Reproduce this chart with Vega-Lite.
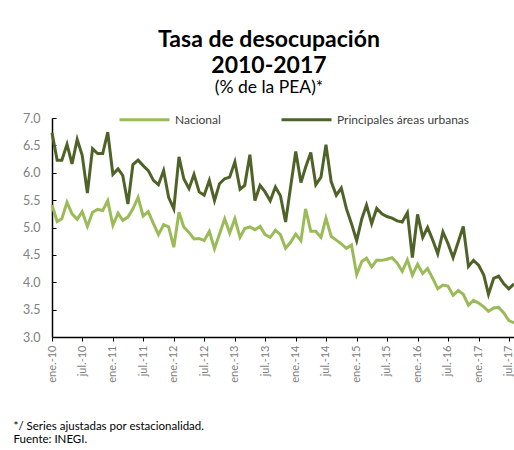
{
  "$schema": "https://vega.github.io/schema/vega-lite/v6.json",
  "width": 462,
  "height": 219,
  "autosize": {"type": "none"},
  "padding": {"left": 52, "top": 118, "right": 0, "bottom": 113},
  "background": "white",
  "config": {"view": {"stroke": null}, "font": "Lato"},
  "title": {
    "text": ["Tasa de desocupación", "2010-2017"],
    "subtitle": "(% de la PEA)*",
    "anchor": "middle",
    "frame": "group",
    "dx": -14,
    "offset": -3,
    "font": "Lato",
    "fontSize": 23,
    "fontWeight": "bold",
    "color": "#000000",
    "lineHeight": 26,
    "subtitleFont": "Lato",
    "subtitleFontSize": 17.5,
    "subtitleColor": "#000000",
    "subtitlePadding": 1
  },
  "data": {
    "values": [
      {"fecha": "2010-01-01", "Nacional": 5.41, "Principales áreas urbanas": 6.73},
      {"fecha": "2010-02-01", "Nacional": 5.11, "Principales áreas urbanas": 6.23},
      {"fecha": "2010-03-01", "Nacional": 5.16, "Principales áreas urbanas": 6.23},
      {"fecha": "2010-04-01", "Nacional": 5.46, "Principales áreas urbanas": 6.52},
      {"fecha": "2010-05-01", "Nacional": 5.25, "Principales áreas urbanas": 6.16},
      {"fecha": "2010-06-01", "Nacional": 5.15, "Principales áreas urbanas": 6.61},
      {"fecha": "2010-07-01", "Nacional": 5.29, "Principales áreas urbanas": 6.32},
      {"fecha": "2010-08-01", "Nacional": 5.02, "Principales áreas urbanas": 5.63},
      {"fecha": "2010-09-01", "Nacional": 5.28, "Principales áreas urbanas": 6.44},
      {"fecha": "2010-10-01", "Nacional": 5.33, "Principales áreas urbanas": 6.35},
      {"fecha": "2010-11-01", "Nacional": 5.31, "Principales áreas urbanas": 6.35},
      {"fecha": "2010-12-01", "Nacional": 5.49, "Principales áreas urbanas": 6.74},
      {"fecha": "2011-01-01", "Nacional": 5.04, "Principales áreas urbanas": 5.97},
      {"fecha": "2011-02-01", "Nacional": 5.26, "Principales áreas urbanas": 6.07},
      {"fecha": "2011-03-01", "Nacional": 5.13, "Principales áreas urbanas": 5.95},
      {"fecha": "2011-04-01", "Nacional": 5.19, "Principales áreas urbanas": 5.43},
      {"fecha": "2011-05-01", "Nacional": 5.34, "Principales áreas urbanas": 6.15},
      {"fecha": "2011-06-01", "Nacional": 5.55, "Principales áreas urbanas": 6.23},
      {"fecha": "2011-07-01", "Nacional": 5.21, "Principales áreas urbanas": 6.13},
      {"fecha": "2011-08-01", "Nacional": 5.29, "Principales áreas urbanas": 6.04},
      {"fecha": "2011-09-01", "Nacional": 5.07, "Principales áreas urbanas": 5.86},
      {"fecha": "2011-10-01", "Nacional": 4.87, "Principales áreas urbanas": 5.78},
      {"fecha": "2011-11-01", "Nacional": 5.05, "Principales áreas urbanas": 6.04},
      {"fecha": "2011-12-01", "Nacional": 5.01, "Principales áreas urbanas": 5.55},
      {"fecha": "2012-01-01", "Nacional": 4.64, "Principales áreas urbanas": 5.34},
      {"fecha": "2012-02-01", "Nacional": 5.28, "Principales áreas urbanas": 6.29},
      {"fecha": "2012-03-01", "Nacional": 5.01, "Principales áreas urbanas": 5.89},
      {"fecha": "2012-04-01", "Nacional": 4.91, "Principales áreas urbanas": 5.71},
      {"fecha": "2012-05-01", "Nacional": 4.79, "Principales áreas urbanas": 5.97},
      {"fecha": "2012-06-01", "Nacional": 4.80, "Principales áreas urbanas": 5.65},
      {"fecha": "2012-07-01", "Nacional": 4.76, "Principales áreas urbanas": 5.59},
      {"fecha": "2012-08-01", "Nacional": 4.93, "Principales áreas urbanas": 5.86},
      {"fecha": "2012-09-01", "Nacional": 4.61, "Principales áreas urbanas": 5.49},
      {"fecha": "2012-10-01", "Nacional": 4.88, "Principales áreas urbanas": 5.80},
      {"fecha": "2012-11-01", "Nacional": 5.16, "Principales áreas urbanas": 5.89},
      {"fecha": "2012-12-01", "Nacional": 4.90, "Principales áreas urbanas": 5.92},
      {"fecha": "2013-01-01", "Nacional": 5.16, "Principales áreas urbanas": 6.20},
      {"fecha": "2013-02-01", "Nacional": 4.82, "Principales áreas urbanas": 5.70},
      {"fecha": "2013-03-01", "Nacional": 4.98, "Principales áreas urbanas": 5.77},
      {"fecha": "2013-04-01", "Nacional": 5.01, "Principales áreas urbanas": 6.33},
      {"fecha": "2013-05-01", "Nacional": 4.96, "Principales áreas urbanas": 5.49},
      {"fecha": "2013-06-01", "Nacional": 5.02, "Principales áreas urbanas": 5.77},
      {"fecha": "2013-07-01", "Nacional": 4.87, "Principales áreas urbanas": 5.65},
      {"fecha": "2013-08-01", "Nacional": 4.82, "Principales áreas urbanas": 5.49},
      {"fecha": "2013-09-01", "Nacional": 4.95, "Principales áreas urbanas": 5.74},
      {"fecha": "2013-10-01", "Nacional": 4.87, "Principales áreas urbanas": 5.58},
      {"fecha": "2013-11-01", "Nacional": 4.62, "Principales áreas urbanas": 5.10},
      {"fecha": "2013-12-01", "Nacional": 4.73, "Principales áreas urbanas": 5.74},
      {"fecha": "2014-01-01", "Nacional": 4.88, "Principales áreas urbanas": 6.39},
      {"fecha": "2014-02-01", "Nacional": 4.76, "Principales áreas urbanas": 5.82},
      {"fecha": "2014-03-01", "Nacional": 5.34, "Principales áreas urbanas": 6.10},
      {"fecha": "2014-04-01", "Nacional": 4.93, "Principales áreas urbanas": 6.37},
      {"fecha": "2014-05-01", "Nacional": 4.93, "Principales áreas urbanas": 5.78},
      {"fecha": "2014-06-01", "Nacional": 4.82, "Principales áreas urbanas": 5.92},
      {"fecha": "2014-07-01", "Nacional": 5.17, "Principales áreas urbanas": 6.51},
      {"fecha": "2014-08-01", "Nacional": 4.84, "Principales áreas urbanas": 5.84},
      {"fecha": "2014-09-01", "Nacional": 4.77, "Principales áreas urbanas": 5.59},
      {"fecha": "2014-10-01", "Nacional": 4.70, "Principales áreas urbanas": 5.72},
      {"fecha": "2014-11-01", "Nacional": 4.62, "Principales áreas urbanas": 5.34},
      {"fecha": "2014-12-01", "Nacional": 4.68, "Principales áreas urbanas": 5.07},
      {"fecha": "2015-01-01", "Nacional": 4.14, "Principales áreas urbanas": 4.76},
      {"fecha": "2015-02-01", "Nacional": 4.38, "Principales áreas urbanas": 5.16},
      {"fecha": "2015-03-01", "Nacional": 4.44, "Principales áreas urbanas": 5.41},
      {"fecha": "2015-04-01", "Nacional": 4.28, "Principales áreas urbanas": 5.07},
      {"fecha": "2015-05-01", "Nacional": 4.40, "Principales áreas urbanas": 5.35},
      {"fecha": "2015-06-01", "Nacional": 4.40, "Principales áreas urbanas": 5.25},
      {"fecha": "2015-07-01", "Nacional": 4.42, "Principales áreas urbanas": 5.20},
      {"fecha": "2015-08-01", "Nacional": 4.45, "Principales áreas urbanas": 5.17},
      {"fecha": "2015-09-01", "Nacional": 4.35, "Principales áreas urbanas": 5.12},
      {"fecha": "2015-10-01", "Nacional": 4.20, "Principales áreas urbanas": 5.10},
      {"fecha": "2015-11-01", "Nacional": 4.41, "Principales áreas urbanas": 5.27},
      {"fecha": "2015-12-01", "Nacional": 4.13, "Principales áreas urbanas": 4.45},
      {"fecha": "2016-01-01", "Nacional": 4.33, "Principales áreas urbanas": 5.24},
      {"fecha": "2016-02-01", "Nacional": 4.16, "Principales áreas urbanas": 4.82},
      {"fecha": "2016-03-01", "Nacional": 4.25, "Principales áreas urbanas": 5.00},
      {"fecha": "2016-04-01", "Nacional": 4.07, "Principales áreas urbanas": 4.77},
      {"fecha": "2016-05-01", "Nacional": 3.88, "Principales áreas urbanas": 4.52},
      {"fecha": "2016-06-01", "Nacional": 3.95, "Principales áreas urbanas": 4.92},
      {"fecha": "2016-07-01", "Nacional": 3.93, "Principales áreas urbanas": 4.71},
      {"fecha": "2016-08-01", "Nacional": 3.76, "Principales áreas urbanas": 4.45},
      {"fecha": "2016-09-01", "Nacional": 3.85, "Principales áreas urbanas": 4.74},
      {"fecha": "2016-10-01", "Nacional": 3.78, "Principales áreas urbanas": 5.02},
      {"fecha": "2016-11-01", "Nacional": 3.58, "Principales áreas urbanas": 4.29},
      {"fecha": "2016-12-01", "Nacional": 3.67, "Principales áreas urbanas": 4.40},
      {"fecha": "2017-01-01", "Nacional": 3.62, "Principales áreas urbanas": 4.31},
      {"fecha": "2017-02-01", "Nacional": 3.55, "Principales áreas urbanas": 4.13},
      {"fecha": "2017-03-01", "Nacional": 3.47, "Principales áreas urbanas": 3.78},
      {"fecha": "2017-04-01", "Nacional": 3.53, "Principales áreas urbanas": 4.07},
      {"fecha": "2017-05-01", "Nacional": 3.54, "Principales áreas urbanas": 4.11},
      {"fecha": "2017-06-01", "Nacional": 3.44, "Principales áreas urbanas": 3.97},
      {"fecha": "2017-07-01", "Nacional": 3.30, "Principales áreas urbanas": 3.88},
      {"fecha": "2017-08-01", "Nacional": 3.26, "Principales áreas urbanas": 3.97}
    ]
  },
  "transform": [
    {"fold": ["Nacional", "Principales áreas urbanas"], "as": ["serie", "tasa"]}
  ],
  "mark": {"type": "line", "strokeWidth": 3, "clip": false},
  "encoding": {
    "x": {
      "field": "fecha",
      "type": "temporal",
      "scale": {
        "type": "utc",
        "nice": false,
        "domain": ["2010-01-01", "2017-08-01"]
      },
      "axis": {
        "title": ["*/ Series ajustadas por estacionalidad.", "Fuente: INEGI."],
        "titleFont": "Lato",
        "titleFontSize": 11.5,
        "titleFontWeight": "normal",
        "titleColor": "#000000",
        "titleAnchor": "start",
        "titleAlign": "left",
        "titleBaseline": "top",
        "titleX": -39,
        "titleY": 83,
        "titleLineHeight": 13,
        "tickCount": {"interval": "month", "step": 6},
        "labelExpr": "(utcmonth(datum.value) == 0 ? 'ene.-' : 'jul.-') + utcFormat(datum.value, '%y')",
        "labelAngle": -90,
        "labelFont": "Lato",
        "labelFontSize": 11,
        "labelColor": "#808080",
        "labelPadding": 4,
        "labelFlush": false,
        "labelOverlap": false,
        "domainColor": "#000000",
        "domainWidth": 1.5,
        "tickColor": "#000000",
        "tickSize": 4,
        "grid": false
      }
    },
    "y": {
      "field": "tasa",
      "type": "quantitative",
      "scale": {"domain": [3, 7], "nice": false, "zero": false},
      "axis": {
        "title": null,
        "values": [3, 3.5, 4, 4.5, 5, 5.5, 6, 6.5, 7],
        "format": ".1f",
        "grid": false,
        "labelFont": "Lato",
        "labelFontSize": 12.5,
        "labelColor": "#808080",
        "labelPadding": 16,
        "domainColor": "#000000",
        "domainWidth": 1.5,
        "tickColor": "#000000",
        "tickSize": -4
      }
    },
    "color": {
      "field": "serie",
      "type": "nominal",
      "scale": {"domain": ["Nacional", "Principales áreas urbanas"], "range": ["#9BBB59", "#4F6228"]},
      "legend": {
        "title": null,
        "orient": "none",
        "legendX": 66,
        "legendY": -25,
        "direction": "horizontal",
        "symbolType": "stroke",
        "symbolSize": 2500,
        "symbolStrokeWidth": 3,
        "labelFont": "Lato",
        "labelFontSize": 12,
        "labelColor": "#404040",
        "labelOffset": 4,
        "columnPadding": 54
      }
    }
  }
}
